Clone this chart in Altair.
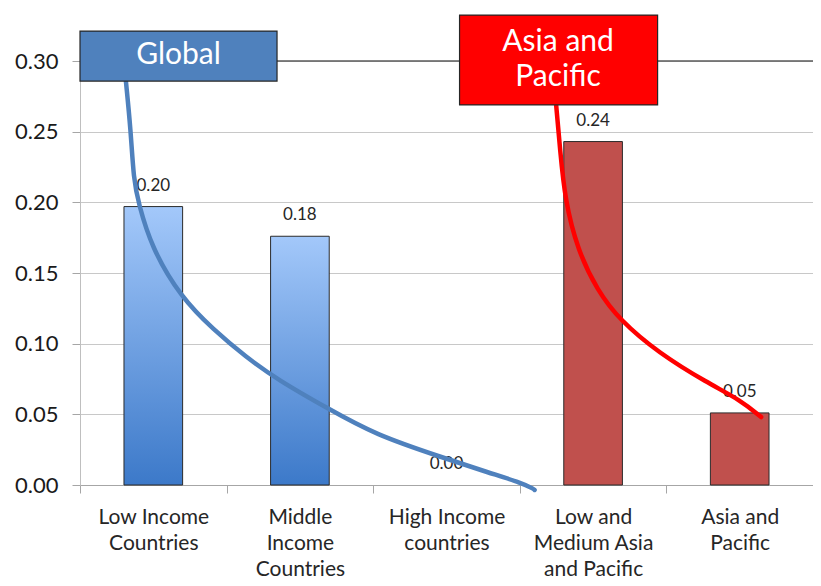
import altair as alt
import pandas as pd

# ---- data ----
categories = ["Low Income|Countries", "Middle|Income|Countries", "High Income|countries",
              "Low and|Medium Asia|and Pacific", "Asia and|Pacific"]
values = [0.197, 0.176, 0.0, 0.243, 0.051]
groups = ["Global", "Global", "Global", "Asia", "Asia"]

# annotation curves (x in category units 0..5, y in data units)
blue_u = [0.313, 0.346, 0.366, 0.399, 0.486, 0.686, 0.912, 1.131, 1.351, 1.684, 2.017, 2.463, 2.795, 3.015, 3.095, 3.101]
blue_v = [0.2858, 0.2512, 0.2158, 0.1995, 0.1684, 0.1330, 0.1097, 0.0906, 0.0743, 0.0545, 0.0354, 0.0198, 0.0085, 0.0014, -0.0028, -0.0035]
red_u = [3.248, 3.275, 3.308, 3.394, 3.527, 3.681, 3.947, 4.280, 4.506, 4.646]
red_v = [0.2689, 0.2370, 0.2017, 0.1663, 0.1380, 0.1167, 0.0934, 0.0722, 0.0601, 0.0481]

# annotation boxes
box_text = ["Global", "Asia and\nPacific"]
box_x0 = [0.0, 2.589]
box_x1 = [1.344, 3.940]
box_y0 = [0.2858, 0.2689]
box_y1 = [0.3212, 0.3325]
box_cx = [0.672, 3.261]
box_cy = [0.3042, 0.3134]
box_fill = ["#4F81BD", "#FF0000"]

top_line = [0.3]

FONT = "Lato"

bars_df = pd.DataFrame({"cat": categories, "val": values, "grp": groups})
blue_df = pd.DataFrame({"u": blue_u, "v": blue_v})
red_df = pd.DataFrame({"u": red_u, "v": red_v})
box_df = pd.DataFrame({"t": box_text, "x0": box_x0, "x1": box_x1, "y0": box_y0, "y1": box_y1,
                       "cx": box_cx, "cy": box_cy, "fill": box_fill})
rule_df = pd.DataFrame({"v": top_line, "a": [0.0], "b": [5.0]})

y_scale = alt.Scale(domain=[0, 0.3], nice=False, zero=True)
x_scale = alt.Scale(domain=categories, paddingInner=0, paddingOuter=0)
u_scale = alt.Scale(domain=[0, 5], nice=False, zero=False)

x_axis = alt.Axis(title=None, labelAngle=0,
                  labelExpr="isString(datum.value) ? split(datum.value, '|') : ''",
                  tickBand="extent", labelFontSize=21, labelFont=FONT, labelColor="#262626",
                  labelLineHeight=26, labelPadding=13, tickSize=8, tickColor="#A6A6A6",
                  domainColor="#A6A6A6", labelLimit=200)
y_axis = alt.Axis(title=None, values=[0, 0.05, 0.1, 0.15, 0.2, 0.25, 0.3], format=".2f",
                  labelFontSize=22, labelFont=FONT, labelColor="#1a1a1a", labelPadding=14,
                  tickSize=8, tickColor="#A6A6A6", domainColor="#BFBFBF",
                  grid=True, gridColor="#C8C8C8")

base = alt.Chart(bars_df)

gradient = alt.Gradient(gradient="linear",
                        stops=[alt.GradientStop(color="#A3C8FA", offset=0),
                               alt.GradientStop(color="#3C79C9", offset=1)],
                        x1=0, x2=0, y1=0, y2=1)

blue_bars = base.transform_filter(alt.datum.grp == "Global").mark_bar(
    width=alt.RelativeBandSize(0.4), fill=gradient, stroke="#2b2b2b", strokeWidth=1
).encode(
    x=alt.X("cat:N", scale=x_scale, axis=x_axis),
    y=alt.Y("val:Q", scale=y_scale, axis=y_axis),
    strokeOpacity=alt.condition(alt.datum.val > 0, alt.value(1), alt.value(0)),
)

red_bars = base.transform_filter(alt.datum.grp == "Asia").mark_bar(
    width=alt.RelativeBandSize(0.4), fill="#C0504D", stroke="#2b2b2b", strokeWidth=1
).encode(
    x=alt.X("cat:N", scale=x_scale, axis=None),
    y=alt.Y("val:Q", scale=y_scale),
)

value_labels = base.mark_text(dy=-21, fontSize=17, font=FONT, color="#262626").encode(
    x=alt.X("cat:N", scale=x_scale, axis=None),
    y=alt.Y("val:Q", scale=y_scale),
    text=alt.Text("val:Q", format=".2f"),
)

top_rule = alt.Chart(rule_df).mark_rule(color="#5A5A5A", strokeWidth=1.3).encode(
    x=alt.X("a:Q", scale=u_scale, axis=None),
    x2="b:Q",
    y=alt.Y("v:Q", scale=y_scale),
)

blue_line = alt.Chart(blue_df).mark_line(color="#4F81BD", strokeWidth=4.5, interpolate="basis",
                                         strokeCap="round").encode(
    x=alt.X("u:Q", scale=u_scale, axis=None),
    y=alt.Y("v:Q", scale=y_scale),
)
red_line = alt.Chart(red_df).mark_line(color="#FF0000", strokeWidth=4.5, interpolate="basis",
                                       strokeCap="round").encode(
    x=alt.X("u:Q", scale=u_scale, axis=None),
    y=alt.Y("v:Q", scale=y_scale),
)
boxes = alt.Chart(box_df).mark_rect(stroke="#262626", strokeWidth=1.2).encode(
    x=alt.X("x0:Q", scale=u_scale, axis=None),
    x2="x1:Q",
    y=alt.Y("y0:Q", scale=y_scale),
    y2="y1:Q",
    fill=alt.Fill("fill:N", scale=None),
)
box_labels = alt.Chart(box_df).mark_text(color="white", fontSize=30, font=FONT,
                                         lineBreak="\n", lineHeight=35, baseline="middle").encode(
    x=alt.X("cx:Q", scale=u_scale, axis=None),
    y=alt.Y("cy:Q", scale=y_scale),
    text="t:N",
)

chart = alt.layer(blue_bars, red_bars, value_labels, top_rule, blue_line, red_line, boxes,
                  box_labels).resolve_scale(x="independent").properties(
    width=733, height=424,
    padding={"left": 72, "top": 53, "right": 0, "bottom": 93},
    autosize=alt.AutoSizeParams(type="none"),
).configure_view(stroke=None).configure(background="white")

chart.save("out.html", embed_options={"renderer": "svg", "actions": False})
